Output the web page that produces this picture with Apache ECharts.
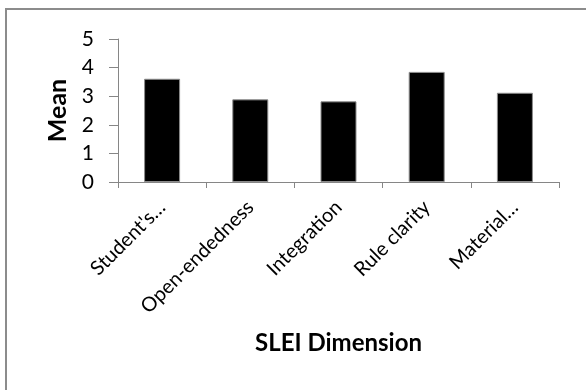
<!DOCTYPE html>
<html>
<head>
<meta charset="utf-8">
<style>html,body{margin:0;padding:0;background:#fff;}#c{width:586px;height:390px;}</style>
<script src="https://cdn.jsdelivr.net/npm/echarts@6/dist/echarts.min.js"></script>
</head>
<body>
<div id="c"></div>
<script>
const categories = ["Student's cohesiveness", "Open-endedness", "Integration", "Rule clarity", "Material environment"];
const displayLabels = ["Student's…", "Open-endedness", "Integration", "Rule clarity", "Material…"];
const means = [3.61, 2.89, 2.82, 3.85, 3.12];
const yTicks = [0, 1, 2, 3, 4, 5];

const chart = echarts.init(document.getElementById('c'), null, {renderer: 'canvas'});
chart.setOption({
  animation: false,
  backgroundColor: '#fff',
  graphic: [{
    type: 'rect', shape: {x: 6, y: 9, width: 700, height: 500},
    style: {fill: 'none', stroke: '#8c8c8c', lineWidth: 2}, silent: true
  }],
  grid: {left: 118, right: 27, top: 39, bottom: 208},
  xAxis: {
    type: 'category',
    data: categories,
    name: 'SLEI Dimension',
    nameLocation: 'middle',
    nameGap: 149,
    nameTextStyle: {fontFamily: 'Lato', fontWeight: 'bold', fontSize: 24, color: '#000'},
    axisLine: {lineStyle: {color: '#868686', width: 1}},
    axisTick: {show: true, length: 6, alignWithLabel: false, lineStyle: {color: '#868686'}},
    axisLabel: {
      rotate: 45, interval: 0, margin: 22,
      fontFamily: 'Lato', fontSize: 20, color: '#000',
      formatter: (v, i) => displayLabels[i]
    }
  },
  yAxis: {
    type: 'value',
    min: 0, max: 5, interval: 1,
    name: 'Mean',
    nameLocation: 'middle',
    nameGap: 46,
    nameRotate: 90,
    nameTextStyle: {fontFamily: 'Lato', fontWeight: 'bold', fontSize: 25, color: '#000'},
    axisLine: {show: true, lineStyle: {color: '#868686', width: 1}},
    axisTick: {show: true, length: 9, inside: false, lineStyle: {color: '#868686'}},
    splitLine: {show: false},
    axisLabel: {fontFamily: 'Lato', fontSize: 21, color: '#000', margin: 24,
      formatter: v => yTicks.includes(v) ? String(v) : ''}
  },
  series: [{
    type: 'bar',
    data: means,
    barWidth: 36,
    itemStyle: {color: '#000', borderColor: '#8c8c8c', borderWidth: 1}
  }]
});
</script>
</body>
</html>
